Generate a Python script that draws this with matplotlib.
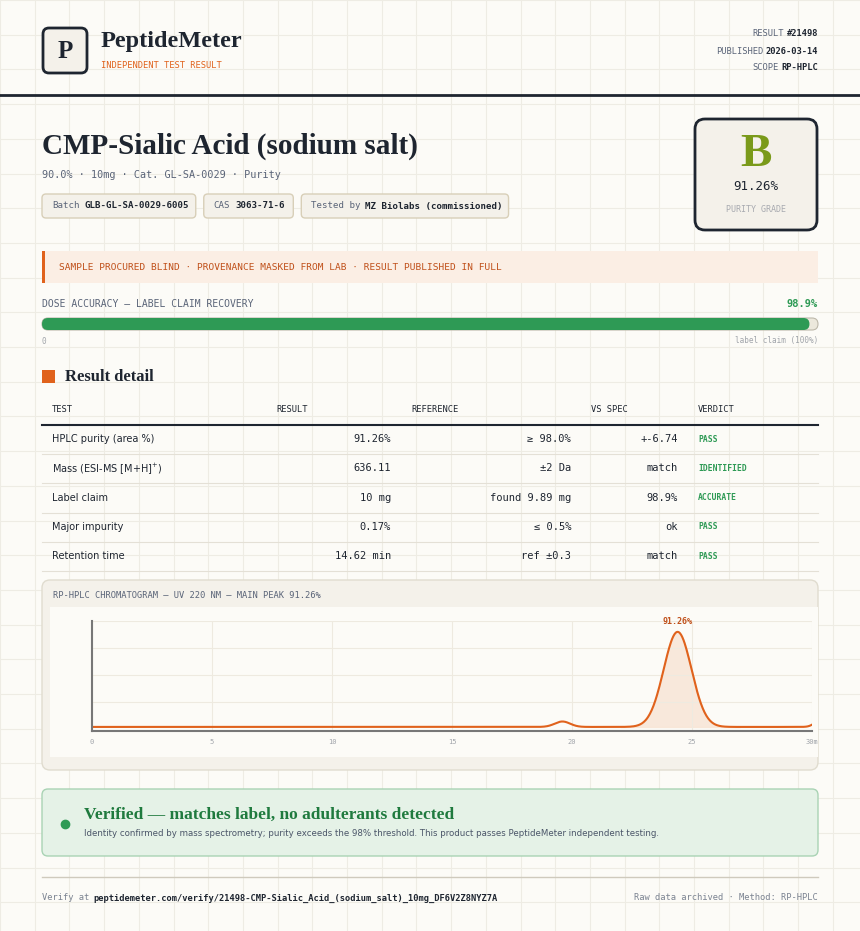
import matplotlib
matplotlib.use("Agg")
import matplotlib.pyplot as plt
import numpy as np
from matplotlib.patches import FancyBboxPatch, Rectangle

# ---- data ----
meta_labels = ["RESULT", "PUBLISHED", "SCOPE"]
meta_values = ["#21498", "2026-03-14", "RP-HPLC"]
chips = [("Batch", "GLB-GL-SA-0029-6005"), ("CAS", "3063-71-6"), ("Tested by", "MZ Biolabs (commissioned)")]
dose_recovery = 98.9
row_tests = ["HPLC purity (area %)", "Mass (ESI-MS [M+H]$^{+}$)", "Label claim", "Major impurity", "Retention time"]
row_results = ["91.26%", "636.11", "10 mg", "0.17%", "14.62 min"]
row_refs = ["≥ 98.0%", "±2 Da", "found 9.89 mg", "≤ 0.5%", "ref ±0.3"]
row_vs = ["+-6.74", "match", "98.9%", "ok", "match"]
row_verdicts = ["PASS", "IDENTIFIED", "ACCURATE", "PASS", "PASS"]
# chromatogram peaks: retention (min), height, width (sigma)
peak_rt = [19.6, 24.4, 30.4]
peak_h = [0.2, 3.5, 0.3]
peak_w = [0.32, 0.58, 0.25]
baseline = 0.1
x_ticks = [0, 5, 10, 15, 20, 25, 30]

BG = "#fcfbf7"
INK = "#1e2530"
ORANGE = "#e0621c"
GREEN = "#2e9a55"
MUTED = "#7a8290"
MONO = "DejaVu Sans Mono"
SERIF = "Liberation Serif"

fig = plt.figure(figsize=(8.6, 9.31), dpi=100, facecolor=BG)
ax = fig.add_axes([0, 0, 1, 1])
ax.set_xlim(0, 860)
ax.set_ylim(931, 0)
ax.axis("off")
ax.set_facecolor(BG)

# background grid
for gx in np.arange(0, 860, 34.7):
    ax.axvline(gx, color="#eeece4", lw=0.8, zorder=0)
for gy in np.arange(0, 931, 34.7):
    ax.axhline(gy, color="#eeece4", lw=0.8, zorder=0)

def box(x, y, w, h, fc, ec, lw=1, r=4, z=1):
    ax.add_patch(FancyBboxPatch((x, y), w, h, boxstyle=f"round,pad=0,rounding_size={r}",
                                fc=fc, ec=ec, lw=lw, zorder=z))

# header
box(43, 28, 44, 45, "#f4f1ea", INK, lw=2, r=6)
ax.text(65, 51, "P", fontsize=18, family=SERIF, weight="bold", color=INK, ha="center", va="center")
ax.text(101, 42, "PeptideMeter", fontsize=17.5, family=SERIF, weight="bold", color=INK, va="center")
ax.text(101, 65, "INDEPENDENT TEST RESULT", fontsize=6.3, family=MONO, color=ORANGE, va="center")
for i, (lab, val) in enumerate(zip(meta_labels, meta_values)):
    y = 34 + i * 17
    ax.text(818, y, val, fontsize=6.3, family=MONO, weight="bold", color=INK, ha="right", va="center")
    ax.text(818 - 5.1 * len(val) - 4, y, lab, fontsize=6.3, family=MONO, color="#5a6478", ha="right", va="center")
ax.plot([0, 860], [95, 95], color=INK, lw=2)

# title
ax.text(42, 146, "CMP-Sialic Acid (sodium salt)", fontsize=21, family=SERIF, weight="bold", color=INK, va="center")
ax.text(42, 175, "90.0% · 10mg · Cat. GL-SA-0029 · Purity", fontsize=7.3, family=MONO, color="#5a6478", va="center")
cx = 42
cw = 5.35
for lab, val in chips:
    w = cw * (len(lab) + len(val) + 1) + 20
    box(cx, 194, w, 24, "#f4f1ea", "#d8cfb8", r=4)
    ax.text(cx + 10, 206, lab, fontsize=6.6, family=MONO, color="#5a6478", va="center")
    ax.text(cx + 10 + cw * (len(lab) + 1), 206, val, fontsize=6.6, family=MONO, weight="bold", color=INK, va="center")
    cx += w + 8

# grade box
box(695, 119, 122, 111, "#f4f1ea", INK, lw=2, r=10)
ax.text(756, 155, "B", fontsize=34, family=SERIF, weight="bold", color="#7a9a1a", ha="center", va="center")
ax.text(756, 187, "91.26%", fontsize=9, family=MONO, color=INK, ha="center", va="center")
ax.text(756, 209, "PURITY GRADE", fontsize=6, family=MONO, color="#a8aab0", ha="center", va="center")

# blind banner
ax.add_patch(Rectangle((42, 251), 776, 32, fc="#fbeee4", ec="none"))
ax.add_patch(Rectangle((42, 251), 3, 32, fc=ORANGE, ec="none"))
ax.text(59, 267, "SAMPLE PROCURED BLIND · PROVENANCE MASKED FROM LAB · RESULT PUBLISHED IN FULL",
        fontsize=6.8, family=MONO, color="#c0501a", va="center")

# dose accuracy bar
ax.text(42, 304, "DOSE ACCURACY — LABEL CLAIM RECOVERY", fontsize=7, family=MONO, color="#5a6478", va="center")
ax.text(818, 304, f"{dose_recovery}%", fontsize=7.5, family=MONO, weight="bold", color=GREEN, ha="right", va="center")
box(42, 318, 776, 12, "#ece8dc", "#bdb8aa", lw=0.8, r=6)
box(42, 318, 776 * dose_recovery / 100, 12, GREEN, "none", r=6, z=2)
ax.text(42, 341, "0", fontsize=5.5, family=MONO, color="#a0a4aa", va="center")
ax.text(818, 341, "label claim (100%)", fontsize=5.5, family=MONO, color="#a0a4aa", ha="right", va="center")

# result detail table
ax.add_patch(Rectangle((42, 370), 13, 13, fc=ORANGE, ec="none"))
ax.text(65, 377, "Result detail", fontsize=12, family=SERIF, weight="bold", color=INK, va="center")
heads = [("TEST", 52), ("RESULT", 276), ("REFERENCE", 411), ("VS SPEC", 591), ("VERDICT", 698)]
for h, x in heads:
    ax.text(x, 410, h, fontsize=6.3, family=MONO, color=INK, va="center")
ax.plot([42, 818], [425, 425], color=INK, lw=1.5)
for i in range(len(row_tests)):
    y = 439 + i * 29.3
    ax.text(52, y, row_tests[i], fontsize=7, color=INK, va="center")
    ax.text(391, y, row_results[i], fontsize=7.5, family=MONO, color=INK, ha="right", va="center")
    ax.text(571, y, row_refs[i], fontsize=7.5, family=MONO, color=INK, ha="right", va="center")
    ax.text(678, y, row_vs[i], fontsize=7.5, family=MONO, color=INK, ha="right", va="center")
    ax.text(698, y, row_verdicts[i], fontsize=5.8, family=MONO, weight="bold", color=GREEN, va="center")
    ax.plot([42, 818], [y + 15, y + 15], color="#e4e0d6", lw=0.8)

# chromatogram panel
box(42, 580, 776, 190, "#f4f1ea", "#e0dccf", r=8)
ax.text(53, 596, "RP-HPLC CHROMATOGRAM — UV 220 NM — MAIN PEAK 91.26%", fontsize=6.3, family=MONO,
        color="#5a6478", va="center")
ax.add_patch(Rectangle((50, 607), 768, 150, fc=BG, ec="none", zorder=1))

cax = fig.add_axes([92 / 860, 1 - 731 / 931, 720 / 860, 110 / 931])
cax.set_facecolor(BG)
t = np.linspace(0, 30, 1200)
sig = baseline + sum(h * np.exp(-0.5 * ((t - rt) / w) ** 2) for rt, h, w in zip(peak_rt, peak_h, peak_w))
cax.fill_between(t, baseline, sig, where=(t > 22) & (t < 27), color="#f8e4d4", alpha=0.8)
cax.plot(t, sig, color=ORANGE, lw=1.5)
cax.set_xlim(0, 30)
cax.set_ylim(-0.05, 4)
cax.set_xticks(x_ticks)
cax.set_xticklabels([str(v) for v in x_ticks[:-1]] + ["30m"], fontsize=5, family=MONO, color="#a0a4aa")
cax.set_yticks([1, 2, 3, 4])
cax.set_yticklabels([])
cax.tick_params(length=0, pad=6)
cax.grid(True, color="#eeeae0", lw=0.8)
for s in ["top", "right"]:
    cax.spines[s].set_visible(False)
cax.spines["left"].set_color("#777")
cax.spines["bottom"].set_color("#777")
cax.spines["left"].set_linewidth(1.5)
cax.spines["bottom"].set_linewidth(1.5)
cax.annotate("91.26%", (peak_rt[1], baseline + peak_h[1]), xytext=(0, 6), textcoords="offset points",
             ha="center", fontsize=6, family=MONO, weight="bold", color="#c0501a")

# verified banner
box(42, 789, 776, 67, "#e5f2e7", "#a9d3b4", r=6)
ax.plot(65, 824, "o", color=GREEN, ms=6)
ax.text(84, 815, "Verified — matches label, no adulterants detected", fontsize=12.5, family=SERIF,
        weight="bold", color="#1f7a3e", va="center")
ax.text(84, 834, "Identity confirmed by mass spectrometry; purity exceeds the 98% threshold. This product passes PeptideMeter independent testing.",
        fontsize=6.2, color="#4a5568", va="center")

# footer
ax.plot([42, 818], [877, 877], color="#cfcabd", lw=1)
ax.text(42, 898, "Verify at", fontsize=6.3, family=MONO, color=MUTED, va="center")
ax.text(93, 898, "peptidemeter.com/verify/21498-CMP-Sialic_Acid_(sodium_salt)_10mg_DF6V2Z8NYZ7A",
        fontsize=6.3, family=MONO, weight="bold", color=INK, va="center")
ax.text(818, 898, "Raw data archived · Method: RP-HPLC", fontsize=6.3, family=MONO, color=MUTED, ha="right", va="center")

fig.savefig("out.png", dpi=100, facecolor=BG)
